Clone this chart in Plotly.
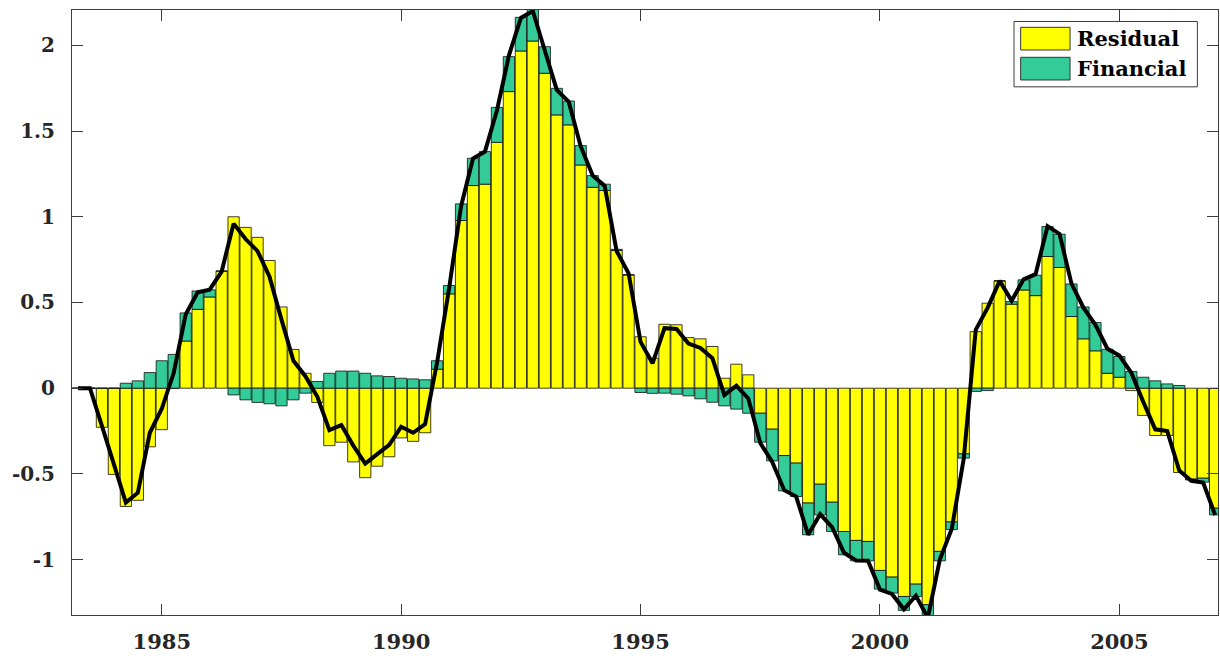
import plotly.graph_objects as go

# Quarterly dates (year fractions)
dates = [1983.25 + 0.25 * i for i in range(96)]

# Contribution of the residual shock
residual = [
    0.0, 0.0, -0.228, -0.503, -0.69, -0.654, -0.342, -0.242, 0.0, 0.275,
    0.46, 0.532, 0.683, 1.0, 0.938, 0.88, 0.745, 0.474, 0.226, 0.087,
    -0.083, -0.335, -0.315, -0.43, -0.522, -0.455, -0.40, -0.29, -0.31, -0.26,
    0.111, 0.55, 0.978, 1.182, 1.19, 1.434, 1.73, 1.967, 2.025, 1.837,
    1.594, 1.536, 1.302, 1.172, 1.153, 0.803, 0.661, 0.30, 0.175, 0.373,
    0.37, 0.295, 0.288, 0.243, 0.058, 0.14, 0.078, -0.146, -0.239, -0.393,
    -0.437, -0.67, -0.56, -0.665, -0.836, -0.888, -0.894, -1.063, -1.102, -1.215,
    -1.143, -1.263, -0.952, -0.78, -0.383, 0.33, 0.496, 0.626, 0.49, 0.573,
    0.54, 0.768, 0.704, 0.418, 0.288, 0.218, 0.087, 0.064, -0.014, -0.159,
    -0.276, -0.276, -0.492, -0.53, -0.525, -0.70,
]

# Contribution of the financial shock
financial = [
    0.0, 0.0, 0.0, 0.0, 0.029, 0.043, 0.091, 0.16, 0.197, 0.164,
    0.107, 0.042, 0.0, -0.039, -0.068, -0.083, -0.091, -0.103, -0.068, -0.029,
    0.039, 0.087, 0.10, 0.10, 0.087, 0.072, 0.068, 0.058, 0.054, 0.049,
    0.049, 0.049, 0.097, 0.159, 0.19, 0.204, 0.204, 0.196, 0.185, 0.155,
    0.155, 0.139, 0.113, 0.068, 0.037, 0.007, 0.0, -0.025, -0.03, -0.029,
    -0.035, -0.045, -0.062, -0.082, -0.103, -0.122, -0.146, -0.169, -0.185, -0.206,
    -0.195, -0.185, -0.179, -0.171, -0.136, -0.119, -0.113, -0.109, -0.093, -0.081,
    -0.072, -0.08, -0.055, -0.045, -0.025, -0.019, -0.014, 0.0, 0.015, 0.059,
    0.119, 0.175, 0.194, 0.19, 0.186, 0.165, 0.14, 0.121, 0.097, 0.064,
    0.043, 0.025, 0.016, -0.005, -0.023, -0.039,
]

# Total (black line)
total = [
    0.0, 0.0, -0.22, -0.45, -0.667, -0.61, -0.26, -0.12, 0.09, 0.43,
    0.56, 0.575, 0.68, 0.96, 0.87, 0.80, 0.65, 0.40, 0.16, 0.07,
    -0.05, -0.245, -0.215, -0.335, -0.44, -0.385, -0.33, -0.225, -0.26, -0.21,
    0.15, 0.58, 1.06, 1.34, 1.38, 1.62, 1.94, 2.16, 2.20, 1.97,
    1.74, 1.67, 1.41, 1.24, 1.18, 0.80, 0.67, 0.27, 0.145, 0.35,
    0.345, 0.26, 0.235, 0.175, -0.04, 0.015, -0.06, -0.32, -0.43, -0.595,
    -0.632, -0.855, -0.735, -0.81, -0.96, -1.005, -1.007, -1.175, -1.2, -1.29,
    -1.21, -1.34, -1.0, -0.82, -0.41, 0.34, 0.47, 0.626, 0.51, 0.635,
    0.665, 0.945, 0.90, 0.61, 0.47, 0.37, 0.23, 0.19, 0.09, -0.08,
    -0.24, -0.25, -0.48, -0.54, -0.55, -0.74,
]

year_ticks = [1985, 1990, 1995, 2000, 2005]
y_ticks = [-1, -0.5, 0, 0.5, 1, 1.5, 2]
y_tick_text = ["-1", "-0.5", "0", "0.5", "1", "1.5", "2"]

series_names = ["Residual", "Financial"]
series_colors = ["#FFFF00", "#33CC99"]

FONT = "DejaVu Serif"
AXIS_COLOR = "#3c3c3c"

fig = go.Figure()
for name, vals, col in zip(series_names, [residual, financial], series_colors):
    fig.add_trace(go.Bar(
        x=dates, y=vals, name=name, width=0.235,
        marker=dict(color=col, line=dict(color="rgba(15,15,15,0.8)", width=1)),
        showlegend=False,
    ))

fig.add_trace(go.Scatter(
    x=dates, y=total, mode="lines",
    line=dict(color="black", width=4),
    showlegend=False,
))

# Legend box drawn in paper coordinates
shapes = [
    dict(type="rect", xref="paper", yref="paper", x0=0.822, x1=0.982, y0=0.873, y1=0.981,
         fillcolor="white", line=dict(color="#3c3c3c", width=1)),
]
anns = []
sw_y = [(0.9339, 0.9714), (0.8843, 0.9218)]
for (y0, y1), name, col in zip(sw_y, series_names, series_colors):
    shapes.append(dict(type="rect", xref="paper", yref="paper", x0=0.8278, x1=0.8709,
                       y0=y0, y1=y1, fillcolor=col, line=dict(color="#333333", width=1)))
    anns.append(dict(xref="paper", yref="paper", x=0.8755, y=(y0 + y1) / 2,
                     xanchor="left", yanchor="middle", showarrow=False, text="<b>%s</b>" % name,
                     font=dict(family=FONT, size=21, color="black")))

fig.update_layout(
    width=1220, height=660,
    margin=dict(l=72, r=2, t=10, b=45),
    paper_bgcolor="white", plot_bgcolor="white",
    barmode="relative", bargap=0.06,
    shapes=shapes, annotations=anns,
    font=dict(family=FONT, color="#262626"),
)
fig.update_xaxes(
    range=[1983.125, 2007.06], tickvals=year_ticks,
    ticktext=["<b>%d</b>" % y for y in year_ticks],
    ticks="inside", ticklen=11, tickcolor=AXIS_COLOR, tickwidth=1,
    showline=True, linecolor=AXIS_COLOR, linewidth=1, mirror="ticks",
    showgrid=False, zeroline=False,
    tickfont=dict(family=FONT, size=21, color="#262626"),
    ticklabelstandoff=8,
)
fig.update_yaxes(
    range=[-1.323, 2.206], tickvals=y_ticks,
    ticktext=["<b>%s</b>" % t for t in y_tick_text],
    ticks="inside", ticklen=11, tickcolor=AXIS_COLOR, tickwidth=1,
    showline=True, linecolor=AXIS_COLOR, linewidth=1, mirror="ticks",
    showgrid=False, zeroline=False,
    tickfont=dict(family=FONT, size=20, color="#262626"),
    ticklabelstandoff=12,
)

fig.write_html("out.html")
